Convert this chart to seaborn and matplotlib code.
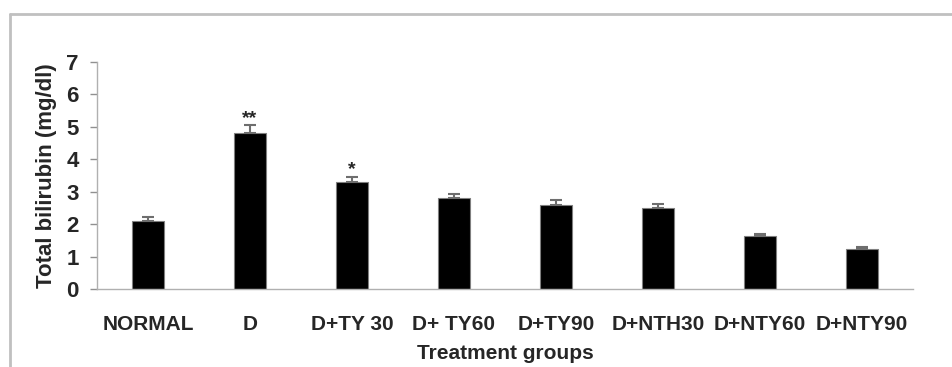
import matplotlib
matplotlib.use('Agg')
import matplotlib.pyplot as plt
from matplotlib.lines import Line2D
import seaborn as sns
import pandas as pd

groups = ['NORMAL', 'D', 'D+TY 30', 'D+ TY60', 'D+TY90', 'D+NTH30', 'D+NTY60', 'D+NTY90']
bilirubin = [2.1, 4.8, 3.3, 2.8, 2.6, 2.5, 1.63, 1.22]
sem = [0.12, 0.25, 0.16, 0.14, 0.14, 0.13, 0.07, 0.07]
stars = ['', '**', '*', '', '', '', '', '']

df = pd.DataFrame({'Group': groups, 'Bilirubin': bilirubin})

sns.set_style('white')
plt.rcParams['font.family'] = ['Liberation Sans', 'DejaVu Sans']
plt.rcParams['font.weight'] = 'bold'

fig = plt.figure(figsize=(9.52, 3.67), dpi=100)
ax = fig.add_axes([97 / 952, 1 - 289 / 367, (913 - 97) / 952, (289 - 62) / 367])

sns.barplot(data=df, x='Group', y='Bilirubin', color='black', width=0.32,
            edgecolor='#7f7f7f', linewidth=0.8, saturation=1, ax=ax)
ax.errorbar(range(len(groups)), bilirubin, yerr=[[0] * len(sem), sem], fmt='none',
            ecolor='#6e6e6e', elinewidth=1.5, capsize=4, capthick=1.5)

# zvezdicky nad sloupci
for i, s in enumerate(stars):
    if s:
        ax.text(i, bilirubin[i] + sem[i] + 0.22, s, ha='center', va='center',
                fontsize=14, fontweight='bold')

ax.set_xlim(-0.5, 7.5)
ax.set_ylim(0, 7)
ax.set_yticks(range(0, 8))
ax.set_ylabel('Total bilirubin (mg/dl)', fontsize=16, fontweight='bold', labelpad=7)
ax.set_xlabel('Treatment groups', fontsize=15, fontweight='bold', labelpad=7)

for side in ['top', 'right']:
    ax.spines[side].set_visible(False)
for side in ['left', 'bottom']:
    ax.spines[side].set_color('#b0b0b0')
    ax.spines[side].set_linewidth(1)

ax.tick_params(axis='y', direction='out', length=5, color='#909090', width=1,
               labelsize=16, pad=8, left=True)
ax.tick_params(axis='x', length=0, labelsize=15, pad=19)
for lab in ax.get_xticklabels() + ax.get_yticklabels():
    lab.set_fontweight('bold')

# sedy ramecek obrazku
fig.add_artist(Line2D([10 / 952, 1], [1 - 14 / 367, 1 - 14 / 367], color='#c0c0c0', lw=2,
                      transform=fig.transFigure))
fig.add_artist(Line2D([10 / 952, 10 / 952], [0, 1 - 14 / 367], color='#c0c0c0', lw=2,
                      transform=fig.transFigure))

fig.savefig('out.png', dpi=100)
